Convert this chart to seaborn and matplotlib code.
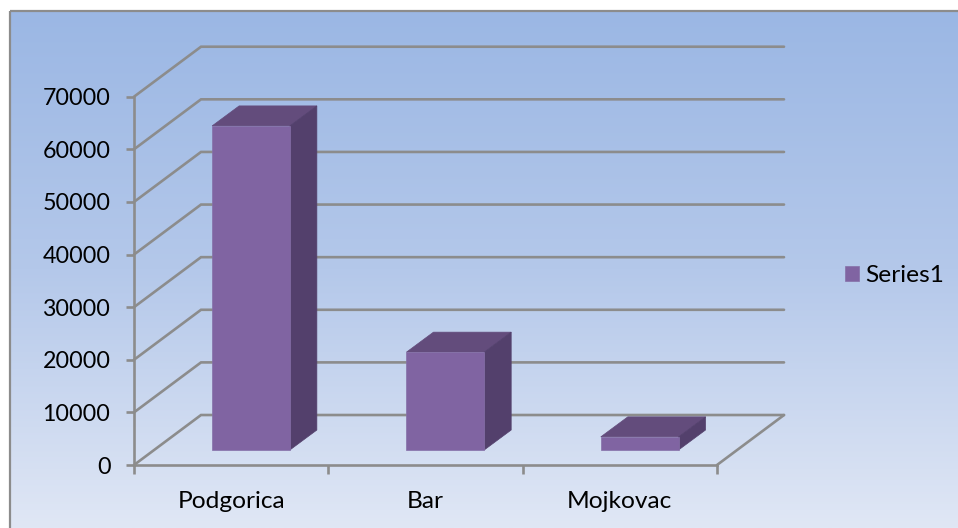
import numpy as np
import pandas as pd
import seaborn as sns
import matplotlib.pyplot as plt
from matplotlib.patches import Polygon, Rectangle
from matplotlib.colors import LinearSegmentedColormap

cities = ['Podgorica', 'Bar', 'Mojkovac']
values = [61600, 18600, 2500]
y_ticks = [0, 10000, 20000, 30000, 40000, 50000, 60000, 70000]
series_name = 'Series1'

sns.set_theme(style='white')
plt.rcParams['font.family'] = ['Lato', 'DejaVu Sans']

W, H = 958, 528
grid_col = '#8c8c8c'
face_col = '#8064a2'
top_col = '#634c7c'
side_col = '#53406c'
edge_col = '#8570a8'
fs = 23.3 * 72 / 100
fs_cat = 24.5 * 72 / 100

# depth of the fake 3d box, in data units (x = categories, y = values)
box_dx = 67 / 194.3
box_dy = 9500
# bars stand in the middle of the floor, with a shallower depth
bar_dx = 27 / 194.3
bar_dy = 3800
shift_x = 0.102
shift_y = 2850

fig = plt.figure(figsize=(W / 100, H / 100), dpi=100, facecolor='white')

# background panel with the blue gradient
bg = fig.add_axes([0, 0, 1, 1], zorder=0)
cmap = LinearSegmentedColormap.from_list('bg', ['#9bb7e4', '#b4c8ea', '#e0e7f5'])
grad = np.linspace(0, 1, 256).reshape(-1, 1)
bg.imshow(grad, cmap=cmap, extent=[10, W, H, 11], aspect='auto', zorder=1)
bg.set_xlim(0, W)
bg.set_ylim(H, 0)
bg.axis('off')
bg.add_patch(Rectangle((10, 11), W, H, fill=False, edgecolor=grid_col, linewidth=1.6, zorder=2))

ax = fig.add_axes([134 / W, (H - 465) / H, (717 - 134) / W, (465 - 96.7) / H], zorder=1)
ax.patch.set_alpha(0)

df = pd.DataFrame({'city': cities, 'value': values})
sns.barplot(data=df, x='city', y='value', ax=ax, color=face_col, saturation=1,
            width=0.4, bottom=shift_y, errorbar=None, zorder=5, label=series_name,
            edgecolor=edge_col, linewidth=0.5)

ax.set_xlim(-0.5, len(cities) - 0.5)
ax.set_ylim(0, 70000)

# walls and floor
left, right = ax.get_xlim()
for v in y_ticks:
    ax.plot([left, left + box_dx, right + box_dx], [v, v + box_dy, v + box_dy],
            color=grid_col, lw=1.9, clip_on=False, zorder=2, solid_joinstyle='miter')
ax.plot([right, right + box_dx], [0, box_dy], color=grid_col, lw=1.9, clip_on=False, zorder=2)

# move bars up on the floor and add top + side faces
for p in ax.patches:
    p.set_x(p.get_x() + shift_x)
    x0, x1 = p.get_x(), p.get_x() + p.get_width()
    y0, y1 = p.get_y(), p.get_y() + p.get_height()
    top = [(x0, y1), (x1, y1), (x1 + bar_dx, y1 + bar_dy), (x0 + bar_dx, y1 + bar_dy)]
    side = [(x1, y0), (x1 + bar_dx, y0 + bar_dy), (x1 + bar_dx, y1 + bar_dy), (x1, y1)]
    ax.add_patch(Polygon(top, facecolor=top_col, edgecolor=top_col, lw=0.5, zorder=4, clip_on=False))
    ax.add_patch(Polygon(side, facecolor=side_col, edgecolor=side_col, lw=0.5, zorder=4, clip_on=False))

sns.despine(ax=ax, top=True, right=True)
for s in ['left', 'bottom']:
    ax.spines[s].set_color(grid_col)
    ax.spines[s].set_linewidth(1.9)
    ax.spines[s].set_zorder(3)

ax.set_xlabel('')
ax.set_ylabel('')
ax.set_yticks(y_ticks)
ax.set_yticklabels([str(v) for v in y_ticks], fontsize=fs, color='black')
ax.set_xticks(range(len(cities)))
ax.set_xticklabels(cities, fontsize=fs_cat, color='black')
ax.set_xticks(np.arange(len(cities) + 1) - 0.5, minor=True)
ax.tick_params(axis='y', which='major', left=True, length=6, width=1.9, color=grid_col, pad=11)
ax.tick_params(axis='x', which='major', bottom=False, length=0, pad=19)
ax.tick_params(axis='x', which='minor', bottom=True, length=6.5, width=1.9, color=grid_col)

handles, labels = ax.get_legend_handles_labels()
ax.get_legend().remove()
fig.legend(handles[:1], labels[:1], loc='center left', bbox_to_anchor=(845 / W, (H - 276) / H),
           frameon=False, fontsize=fs_cat, labelcolor='black', handlelength=0.58, handleheight=0.58,
           handletextpad=0.25, borderpad=0, borderaxespad=0)

fig.savefig('out.png', dpi=100)
